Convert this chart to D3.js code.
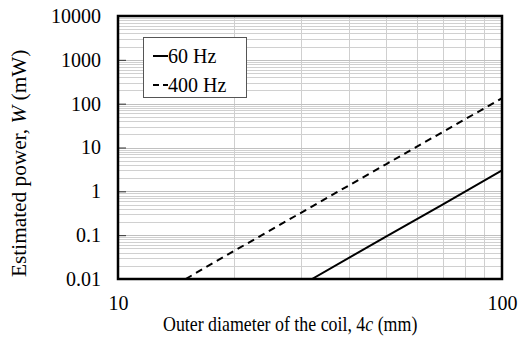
<!DOCTYPE html>
<html><head><meta charset="utf-8">
<script src="https://cdn.jsdelivr.net/npm/d3@7"></script>
<style>body{margin:0;background:#fff}svg{display:block}text{font-family:"Liberation Serif","Times New Roman",serif;fill:#000}</style>
</head><body>
<script>
const seriesNames = ["60 Hz", "400 Hz"];
const diam60 = [32, 50, 70, 100];
const power60 = [0.01, 0.094, 0.5, 3];
const diam400 = [15, 20, 50, 100];
const power400 = [0.01, 0.043, 4.2, 133];
const xTicks = [10, 100];
const yTicks = [0.01, 0.1, 1, 10, 100, 1000, 10000];
const yTickLabels = ["0.01", "0.1", "1", "10", "100", "1000", "10000"];

const W = 518, H = 345;
const m = {l:118, r:16, t:16, b:66};
const svg = d3.select("body").append("svg").attr("width", W).attr("height", H);
const x = d3.scaleLog().domain([10, 100]).range([m.l, W - m.r]);
const y = d3.scaleLog().domain([0.01, 10000]).range([H - m.b, m.t]);

// grid
const g = svg.append("g");
const xMinor = [];
for (let v = 20; v < 100; v += 10) xMinor.push(v);
g.selectAll(".vx").data(xMinor).join("line")
  .attr("x1", d => Math.round(x(d)) + 0.5).attr("x2", d => Math.round(x(d)) + 0.5).attr("y1", m.t).attr("y2", H - m.b)
  .attr("stroke", "#cfcfcf").attr("stroke-width", 1);
const yMinor = [];
for (let e = -2; e < 4; e++) for (let k = 2; k <= 9; k++) yMinor.push(k * Math.pow(10, e));
g.selectAll(".hy").data(yMinor).join("line")
  .attr("x1", m.l).attr("x2", W - m.r).attr("y1", d => Math.round(y(d)) + 0.5).attr("y2", d => Math.round(y(d)) + 0.5)
  .attr("stroke", "#d0d0d0").attr("stroke-width", 1);
g.selectAll(".hmaj").data(yTicks.slice(1, -1)).join("line")
  .attr("x1", m.l).attr("x2", W - m.r).attr("y1", d => Math.round(y(d)) + 0.5).attr("y2", d => Math.round(y(d)) + 0.5)
  .attr("stroke", "#c0c0c0").attr("stroke-width", 1);

// axes
const yAxis = d3.axisLeft(y).tickValues(yTicks).tickFormat((d, i) => yTickLabels[i]).tickSizeInner(-8).tickSizeOuter(0).tickPadding(17);
const ya = svg.append("g").attr("transform", `translate(${m.l},0)`).call(yAxis);
ya.select(".domain").remove();
ya.selectAll("line").attr("stroke", "#333");
ya.selectAll("text").style("font-size", "20px").style("font-family", "Liberation Serif");

const xAxis = d3.axisBottom(x).tickValues(xTicks).tickFormat(d3.format("d")).tickSize(0).tickPadding(17);
const xa = svg.append("g").attr("transform", `translate(0,${H - m.b})`).call(xAxis);
xa.select(".domain").remove();
xa.selectAll("text").style("font-size", "20px").style("font-family", "Liberation Serif");

// lines
const line = d3.line().x(d => x(d[0])).y(d => y(d[1]));
svg.append("clipPath").attr("id", "c").append("rect")
  .attr("x", m.l).attr("y", m.t).attr("width", W - m.l - m.r).attr("height", H - m.t - m.b);
svg.append("path").datum(d3.zip(diam60, power60)).attr("d", line)
  .attr("fill", "none").attr("stroke", "#000").attr("stroke-width", 2).attr("clip-path", "url(#c)");
svg.append("path").datum(d3.zip(diam400, power400)).attr("d", line)
  .attr("fill", "none").attr("stroke", "#000").attr("stroke-width", 2).attr("stroke-dasharray", "7,5").attr("clip-path", "url(#c)");

// frame
svg.append("rect").attr("x", m.l).attr("y", m.t).attr("width", W - m.l - m.r).attr("height", H - m.t - m.b)
  .attr("fill", "none").attr("stroke", "#000").attr("stroke-width", 2.5);

// legend
const lg = svg.append("g");
lg.append("rect").attr("x", 143.5).attr("y", 37.5).attr("width", 103).attr("height", 60)
  .attr("fill", "#fff").attr("stroke", "#555").attr("stroke-width", 1);
const dashes = [null, "6,4"];
seriesNames.forEach((n, i) => {
  const yy = 56 + i * 29;
  lg.append("line").attr("x1", 153).attr("x2", 168).attr("y1", yy).attr("y2", yy)
    .attr("stroke", "#000").attr("stroke-width", 2).attr("stroke-dasharray", dashes[i]);
  lg.append("text").attr("x", 168).attr("y", yy).attr("dy", "0.35em").style("font-size", "20px").text(n);
});

// titles
svg.append("text").attr("transform", "translate(163,331) scale(0.893,1)").style("font-size", "20px")
  .html('Outer diameter of the coil, 4<tspan font-style="italic">c</tspan> (mm)');
svg.append("text").attr("transform", "translate(26,277) rotate(-90) scale(1.065,1)").style("font-size", "20px")
  .html('Estimated power, <tspan font-style="italic">W</tspan> (mW)');
</script>
</body></html>
